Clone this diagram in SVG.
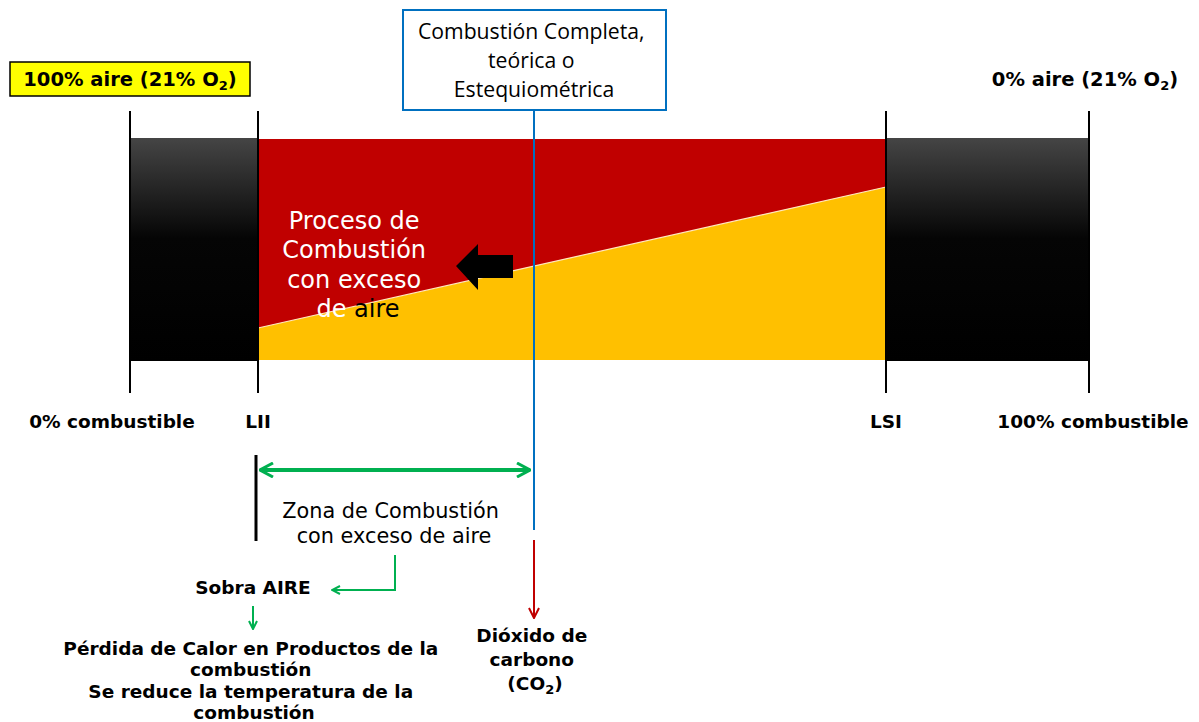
<svg xmlns="http://www.w3.org/2000/svg" width="1199" height="722" viewBox="0 0 1199 722">
<style>
.b{font-family:"DejaVu Sans",Verdana,sans-serif;font-weight:bold;font-size:18.5px;fill:#000}
.r{font-family:"DejaVu Sans",Verdana,sans-serif;font-size:20.8px;fill:#000}
.c{font-family:"Open Sans","Liberation Sans",sans-serif;font-size:21.2px;fill:#000}
.tick{stroke:#000;stroke-width:2}
.g{stroke:#00b050;stroke-width:2;fill:none}
</style>
<defs>
<linearGradient id="dk" x1="0" y1="0" x2="0" y2="1">
<stop offset="0" stop-color="#454545"/>
<stop offset="0.45" stop-color="#050505"/>
<stop offset="1" stop-color="#000"/>
</linearGradient>
<marker id="ga" viewBox="0 0 10 10" refX="9" refY="5" markerWidth="10" markerHeight="10" markerUnits="userSpaceOnUse" orient="auto-start-reverse">
<path d="M1,1 L9,5 L1,9" fill="none" stroke="#00b050" stroke-width="2"/>
</marker>
<marker id="gb" viewBox="0 0 16 16" refX="15" refY="8" markerWidth="16" markerHeight="16" markerUnits="userSpaceOnUse" orient="auto-start-reverse">
<path d="M2,1 L15,8 L2,15" fill="none" stroke="#00b050" stroke-width="3"/>
</marker>
<marker id="ra" viewBox="0 0 12 12" refX="11" refY="6" markerWidth="12" markerHeight="12" markerUnits="userSpaceOnUse" orient="auto">
<path d="M1,1 L11,6 L1,11" fill="none" stroke="#c00000" stroke-width="2"/>
</marker>
</defs>

<g id="bar">
<rect x="130" y="138" width="128" height="223" fill="url(#dk)"/>
<rect x="886" y="138" width="203" height="223" fill="url(#dk)"/>
<rect x="258" y="139" width="628" height="221" fill="#c00000"/>
<polygon points="258,328 886,187 886,360 258,360" fill="#ffc000"/>
<line x1="258" y1="328" x2="886" y2="187" stroke="#ffe8c0" stroke-width="1.2"/>
<line class="tick" x1="130" y1="111" x2="130" y2="393"/>
<line class="tick" x1="258" y1="111" x2="258" y2="393"/>
<line class="tick" x1="886" y1="111" x2="886" y2="393"/>
<line class="tick" x1="1089" y1="111" x2="1089" y2="393"/>
</g>

<g id="proceso">
<text class="r" text-anchor="middle" style="font-size:24px;fill:#fff">
<tspan x="358" y="229">Proceso de</tspan>
<tspan x="358" y="258">Combustión</tspan>
<tspan x="358" y="288">con exceso</tspan>
<tspan x="358" y="317">de <tspan fill="#000">aire</tspan></tspan>
</text>
<polygon points="456,266 478,244 478,255 513,255 513,278 478,278 478,290" fill="#000"/>
</g>

<g id="aire100">
<rect x="10" y="62" width="240" height="34" fill="#ffff00" stroke="#000" stroke-width="1.5"/>
<text class="b" x="130" y="86" text-anchor="middle" style="font-size:19.5px">100% aire (21% O<tspan font-size="13" dy="4">2</tspan><tspan dy="-4">)</tspan></text>
</g>
<g id="aire0">
<text class="b" x="1085" y="86" text-anchor="middle" style="font-size:19.5px">0% aire (21% O<tspan font-size="13" dy="4">2</tspan><tspan dy="-4">)</tspan></text>
</g>

<g id="estequio">
<rect x="403" y="10" width="263" height="100" fill="#fff" stroke="#0070c0" stroke-width="2"/>
<text class="c" text-anchor="middle">
<tspan x="534" y="39">Combustión Completa,</tspan>
<tspan x="534" y="68">teórica o</tspan>
<tspan x="534" y="97">Estequiométrica</tspan>
</text>
</g>

<g id="labels">
<text class="b" x="112" y="428" text-anchor="middle">0% combustible</text>
<text class="b" x="258" y="428" text-anchor="middle">LII</text>
<text class="b" x="886" y="428" text-anchor="middle">LSI</text>
<text class="b" x="1093" y="428" text-anchor="middle">100% combustible</text>
</g>

<g id="zona">
<text class="r" text-anchor="middle">
<tspan x="394" y="518">Zona de Combustión</tspan>
<tspan x="394" y="543">con exceso de aire</tspan>
</text>
</g>

<g id="sobra">
<text class="b" x="253" y="594" text-anchor="middle">Sobra AIRE</text>
</g>

<g id="perdida">
<text class="b" text-anchor="middle">
<tspan x="254" y="655">Pérdida de Calor en Productos de la</tspan>
<tspan x="254" y="676">combustión</tspan>
<tspan x="254" y="698">Se reduce la temperatura de la</tspan>
<tspan x="254" y="719">combustión</tspan>
</text>
</g>

<g id="co2">
<text class="b" text-anchor="middle">
<tspan x="535" y="642">Dióxido de</tspan>
<tspan x="535" y="666">carbono</tspan>
<tspan x="535" y="690">(CO<tspan font-size="13" dy="4">2</tspan><tspan dy="-4">)</tspan></tspan>
</text>
</g>

<g id="connectors">
<line x1="534" y1="110" x2="534" y2="530" stroke="#0070c0" stroke-width="2"/>
<line x1="256" y1="455" x2="256" y2="541" stroke="#000" stroke-width="3"/>
<line x1="260" y1="470" x2="530" y2="470" stroke="#00b050" stroke-width="4" marker-start="url(#gb)" marker-end="url(#gb)"/>
<polyline class="g" points="395,555 395,590 332,590" marker-end="url(#ga)"/>
<line class="g" x1="253" y1="606" x2="253" y2="629" marker-end="url(#ga)"/>
<line x1="534" y1="540" x2="534" y2="618" stroke="#c00000" stroke-width="2" marker-end="url(#ra)"/>
</g>
</svg>
